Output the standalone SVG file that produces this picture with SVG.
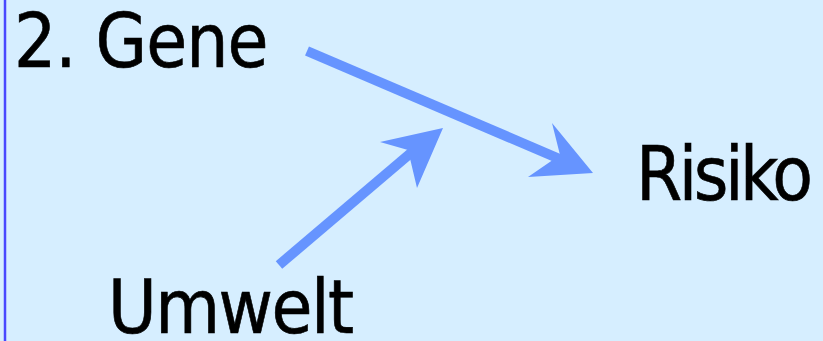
<svg xmlns="http://www.w3.org/2000/svg" width="823" height="341" viewBox="0 0 823 341">
<style>
.t{font-family:"DejaVu Sans Condensed","DejaVu Sans",sans-serif;font-size:74px;fill:#000;stroke:#000;stroke-width:0.6}
.sh{stroke:#6694FF;stroke-width:10;fill:none}
.hd{fill:#6694FF}
</style>
<rect x="0" y="0" width="823" height="341" fill="#D6EEFF"/>
<line x1="5" y1="0" x2="5" y2="341" stroke="#4848FF" stroke-width="2.5"/>
<g id="gene"><text class="t" x="14" y="67" letter-spacing="-1">2. Gene</text></g>
<g id="risiko"><text class="t" x="636" y="200" letter-spacing="-3.5">Risiko</text></g>
<g id="umwelt"><text class="t" x="108" y="333" letter-spacing="-1.5">Umwelt</text></g>
<g id="connectors">
<line class="sh" x1="307" y1="51" x2="562" y2="160"/>
<polygon class="hd" points="593,173 552,123 560,155 528,177"/>
<line class="sh" x1="279" y1="265" x2="412" y2="152"/>
<polygon class="hd" points="443,128 380,142 408,150 417,188"/>
</g>
</svg>
